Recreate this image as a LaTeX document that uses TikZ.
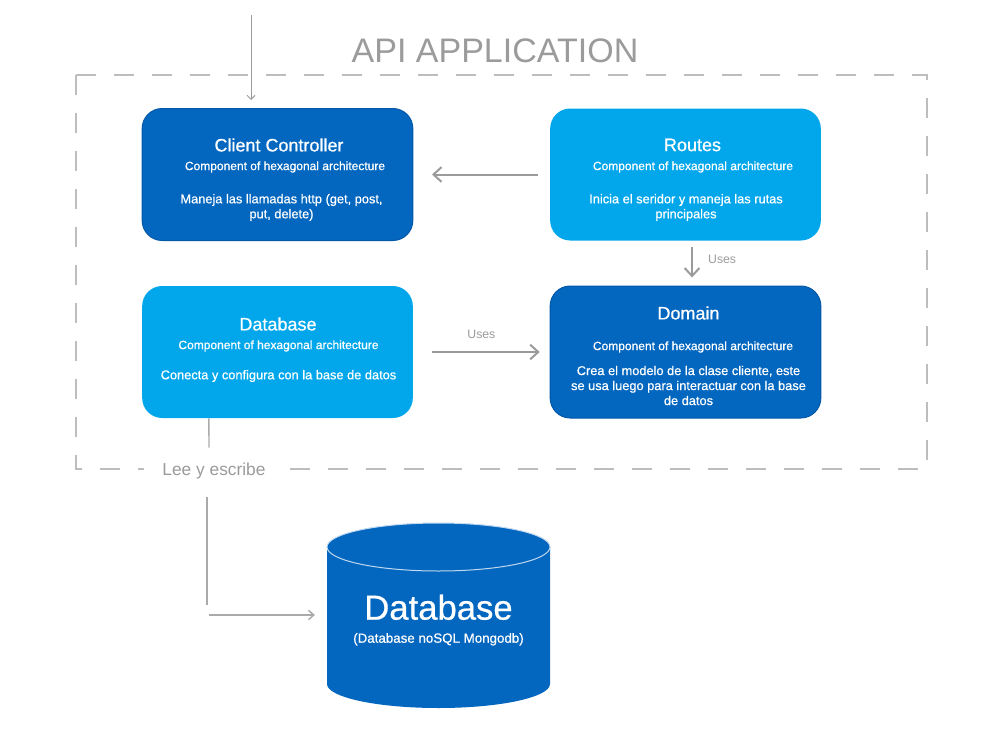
\documentclass[tikz,border=0pt]{standalone}
\usepackage{fontspec}
\setmainfont{Liberation Sans}
\newfontfamily\medfont[FakeBold=0.6]{Liberation Sans}
\usetikzlibrary{arrows.meta}
\definecolor{cdark}{HTML}{0366BF}
\definecolor{cdarkline}{HTML}{0358A8}
\definecolor{clight}{HTML}{02A7EB}
\definecolor{cgray}{HTML}{9B9B9B}
\definecolor{cframe}{HTML}{BDBDBD}

\begin{document}
\begin{tikzpicture}
  [x=0.75pt, y=-0.75pt,
   box/.style={rectangle, rounded corners=15pt, minimum width=203pt, minimum height=99pt},
   dark/.style={box, fill=cdark, draw=cdarkline, line width=0.75pt},
   light/.style={box, fill=clight},
   head/.style={text=white, inner sep=0pt, font=\medfont\fontsize{13.5}{16}\selectfont},
   note/.style={text=white, inner sep=0pt, font=\medfont\fontsize{9}{11}\selectfont},
   desc/.style={text=white, inner sep=0pt, align=center, font=\medfont\fontsize{9.6}{11.25}\selectfont},
   link/.style={draw=cgray, line width=1.5pt, -{Straight Barb[length=6pt, width=11pt]}},
   wire/.style={draw=cgray!85, line width=1.1pt},
   uses/.style={text=cgray, font=\fontsize{9.2}{11}\selectfont},
   frame/.style={draw=cframe, line width=1.5pt, dash pattern=on 15pt off 13.5pt}]
  \useasboundingbox (0,0) rectangle (1000,750);

  % application frame
  \draw[frame] (76,75) rectangle (927,469);
  \node[text=cgray, inner sep=0pt, font=\fontsize{25.5}{30}\selectfont] (app) at (495,51) {API APPLICATION};

  % components
  \node[dark] (cc) at (277.5,174.5) {};
  \node[head] (cc-name) at (279,145) {Client Controller};
  \node[note] (cc-note) at (285,167) {Component of hexagonal architecture};
  \node[desc] (cc-text) at (281.5,207.5) {Maneja las llamadas http (get, post,\\put, delete)};

  \node[light] (routes) at (685.5,174.5) {};
  \node[head] (routes-name) at (692.5,145) {Routes};
  \node[note] (routes-note) at (693,167) {Component of hexagonal architecture};
  \node[desc] (routes-text) at (686,207.5) {Inicia el seridor y maneja las rutas\\principales};

  \node[light] (dbbox) at (277.5,352) {};
  \node[head] (dbbox-name) at (278,324) {Database};
  \node[note] (dbbox-note) at (278.5,346) {Component of hexagonal architecture};
  \node[desc] (dbbox-text) at (278.5,376) {Conecta y configura con la base de datos};

  \node[dark] (domain) at (685.5,352) {};
  \node[head] (domain-name) at (688.5,313) {Domain};
  \node[note] (domain-note) at (693,347) {Component of hexagonal architecture};
  \node[desc] (domain-text) at (688.5,385.5) {Crea el modelo de la clase cliente, este\\se usa luego para interactuar con la base\\de datos};

  % mongo cylinder
  \fill[cdark] (327,547) -- (327,684) arc[start angle=180, end angle=0, x radius=111.5, y radius=24] -- (550,547) -- cycle;
  \filldraw[fill=cdark, draw=white!75!cdark, line width=0.75pt] (438.5,547) ellipse [x radius=111.5, y radius=24];
  \node[text=white, align=center, font=\medfont, minimum width=167pt, minimum height=139pt] (mongo) at (438.5,620)
    {{\fontsize{26}{30}\selectfont Database}\\[5.3pt]{\fontsize{10}{12}\selectfont (Database noSQL Mongodb)}};

  % connectors
  \coordinate (entry) at (251,15);
  \draw[draw=cgray, line width=0.75pt, -{Straight Barb[length=3pt, width=6pt]}, shorten >=6pt] (entry) -- (entry |- cc.north);
  \draw[link, shorten <=9pt, shorten >=14pt] (routes.west) -- (cc.east);
  \draw[link, shorten <=4.5pt, shorten >=6pt] ([xshift=4.9pt]routes.south) -- ([xshift=4.9pt]domain.north)
    node[uses, midway, right=8pt, yshift=3pt] (uses-a) {Uses};
  \draw[link, shorten <=14pt, shorten >=7.5pt] (dbbox.east) -- (domain.west)
    node[uses, midway, above=6pt] (uses-b) {Uses};

  \node[fill=white, text=cgray, inner xsep=14pt, font=\fontsize{13}{15}\selectfont] (rw) at (214,471) {Lee y escribe};
  \coordinate (bend) at (207,615);
  \draw[wire, shorten >=8pt] ([xshift=-51.4pt]dbbox.south) -- ([xshift=-3.75pt]rw.north);
  \draw[wire, shorten <=10pt] (rw.south -| bend) -- ([yshift=7.5pt]bend);
  \draw[wire, -{Straight Barb[length=4pt, width=7pt]}, shorten >=9pt] ([xshift=1.5pt]bend) -- (bend -| mongo.west);
\end{tikzpicture}
\end{document}
